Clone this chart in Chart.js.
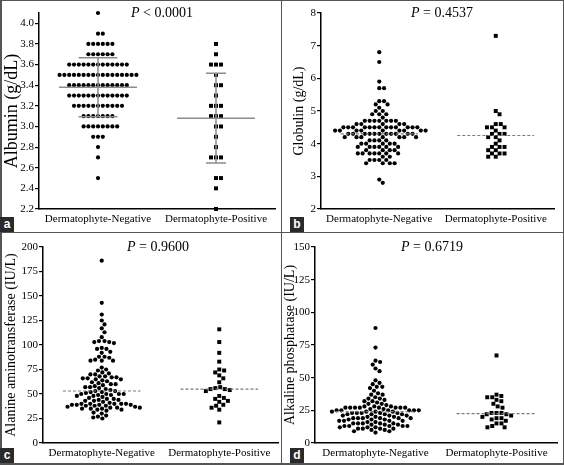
<!DOCTYPE html>
<html>
<head>
<meta charset="utf-8">
<script src="https://cdn.jsdelivr.net/npm/chart.js@4.4.1/dist/chart.umd.min.js"></script>
<style>
  body { margin: 0; background: #fff; }
  #fig { position: relative; width: 564px; height: 465px; overflow: hidden; background: #fff; }
  #fig canvas { position: absolute; }
  .tag { position: absolute; width: 14px; height: 15px; background: #2a2a2a; color: #fff;
         font: bold 12px "Liberation Sans", Arial, sans-serif; text-align: center; line-height: 14px; }
  .rule { position: absolute; background: #555; }
</style>
</head>
<body>
<div id="fig">
  <canvas id="ca" width="282" height="232" style="left:0;top:0"></canvas>
  <canvas id="cb" width="282" height="232" style="left:282px;top:0"></canvas>
  <canvas id="cc" width="282" height="233" style="left:0;top:232px"></canvas>
  <canvas id="cd" width="282" height="233" style="left:282px;top:232px"></canvas>
  <div class="rule" style="left:281px;top:0;width:1px;height:465px"></div>
  <div class="rule" style="left:0;top:232px;width:564px;height:1px"></div>
  <div class="rule" style="left:0;top:0;width:2px;height:465px"></div>
  <div class="rule" style="left:0;top:0;width:564px;height:1px"></div>
  <div class="rule" style="left:0;top:463px;width:564px;height:2px"></div>
  <div class="rule" style="left:563px;top:0;width:1px;height:465px"></div>
  <div class="tag" style="left:0;top:217px">a</div>
  <div class="tag" style="left:290px;top:217px">b</div>
  <div class="tag" style="left:0;top:448px">c</div>
  <div class="tag" style="left:290px;top:448px">d</div>
</div>
<script>
const categories = ['Dermatophyte-Negative', 'Dermatophyte-Positive'];

// a - albumin (g/dL), mean +/- SD
const albuminNeg = [
  4.1,
  3.9, 3.9,
  3.8, 3.8, 3.8, 3.8, 3.8, 3.8,
  3.7, 3.7, 3.7, 3.7, 3.7, 3.7,
  3.6, 3.6, 3.6, 3.6, 3.6, 3.6, 3.6, 3.6, 3.6, 3.6, 3.6, 3.6, 3.6,
  3.5, 3.5, 3.5, 3.5, 3.5, 3.5, 3.5, 3.5, 3.5, 3.5, 3.5, 3.5, 3.5, 3.5, 3.5, 3.5, 3.5,
  3.4, 3.4, 3.4, 3.4, 3.4, 3.4, 3.4, 3.4, 3.4, 3.4, 3.4, 3.4, 3.4,
  3.3, 3.3, 3.3, 3.3, 3.3, 3.3, 3.3, 3.3, 3.3, 3.3, 3.3, 3.3, 3.3,
  3.2, 3.2, 3.2, 3.2, 3.2, 3.2, 3.2, 3.2, 3.2, 3.2, 3.2,
  3.1, 3.1, 3.1, 3.1, 3.1, 3.1, 3.1,
  3.0, 3.0, 3.0, 3.0, 3.0, 3.0, 3.0, 3.0,
  2.9, 2.9, 2.9,
  2.8, 2.7, 2.5
];
const albuminPos = [3.8, 3.7, 3.6, 3.6, 3.6, 3.5, 3.4, 3.4, 3.3, 3.2, 3.2, 3.2, 3.1, 3.1, 3.1,
  3.0, 3.0, 2.9, 2.8, 2.7, 2.7, 2.7, 2.5, 2.5, 2.4, 2.2];
const albuminMean = [3.38, 3.08];
const albuminSD = [0.285, 0.435];
const albuminTicks = [2.2, 2.4, 2.6, 2.8, 3.0, 3.2, 3.4, 3.6, 3.8, 4.0];

// b - globulin (g/dL), median
const globulinNeg = [
  6.8, 6.5, 5.9, 5.7, 5.7, 5.3, 5.3, 5.2, 5.2, 5.1, 5.0, 5.0,
  4.9, 4.9, 4.9, 4.8,
  4.7, 4.7, 4.7, 4.7, 4.7, 4.7, 4.7,
  4.6, 4.6, 4.6, 4.6, 4.6,
  4.5, 4.5, 4.5, 4.5, 4.5, 4.5, 4.5, 4.5, 4.5, 4.5, 4.5, 4.5, 4.5,
  4.4, 4.4, 4.4, 4.4, 4.4, 4.4, 4.4, 4.4, 4.4,
  4.3, 4.3, 4.3, 4.3, 4.3, 4.3, 4.3, 4.3, 4.3, 4.3, 4.3,
  4.2, 4.2, 4.2, 4.2, 4.2, 4.2, 4.2,
  4.1, 4.1, 4.1, 4.1,
  4.0, 4.0, 4.0, 4.0, 4.0,
  3.9, 3.9, 3.9, 3.9, 3.9, 3.9,
  3.8, 3.8, 3.8, 3.8,
  3.7, 3.7, 3.7, 3.7, 3.7, 3.7, 3.7,
  3.6, 3.6,
  3.5, 3.5, 3.5, 3.5,
  3.4, 3.4, 3.4, 3.4,
  2.9, 2.8
];
const globulinPos = [7.3, 5.0, 4.9, 4.6, 4.6, 4.5, 4.5, 4.5, 4.4, 4.3, 4.3, 4.3, 4.2, 4.2,
  4.1, 4.0, 3.9, 3.9, 3.9, 3.8, 3.8, 3.7, 3.7, 3.7, 3.6, 3.6];
const globulinMedian = [4.3, 4.25];
const globulinTicks = [2, 3, 4, 5, 6, 7, 8];

// c - alanine aminotransferase (IU/L), median
const altNeg = [
  186, 143, 131, 125, 121, 117, 113, 108, 104, 104,
  103, 103, 102, 97, 96, 96, 93, 92, 88, 88,
  87, 85, 84, 84, 84, 77, 75, 74, 72, 71,
  70, 70, 68, 68, 67, 67, 66, 66, 65, 65,
  64, 63, 62, 61, 60, 60, 59, 58, 57, 57,
  56, 55, 54, 53, 53, 52, 52, 51, 50, 50,
  50, 50, 49, 49, 48, 48, 47, 46, 45, 45,
  44, 44, 43, 43, 42, 41, 40, 40, 40, 40,
  40, 39, 39, 39, 39, 38, 38, 38, 37, 37,
  36, 36, 36, 35, 35, 35, 34, 34, 33, 31,
  30, 28, 27, 26, 25
];
const altPos = [116, 103, 92, 83, 75, 74, 72, 69, 66, 62, 57, 56, 55, 55, 54, 53,
  48, 46, 45, 43, 42, 39, 38, 36, 34, 21];
const altMedian = [53, 55];
const altTicks = [0, 25, 50, 75, 100, 125, 150, 175, 200];

// d - alkaline phosphatase (IU/L), median
const alpNeg = [
  88, 73, 63, 62, 60, 57, 55, 48, 46, 45,
  43, 43, 42, 40, 38, 37, 37, 35, 34, 34,
  33, 32, 32, 31, 30, 30, 29, 28, 28, 28,
  27, 27, 27, 27, 27, 27, 27, 27, 26, 26,
  25, 25, 25, 25, 25, 25, 24, 24, 24, 24,
  23, 23, 23, 23, 23, 22, 22, 22, 22, 21,
  21, 21, 20, 20, 20, 19, 19, 19, 19, 19,
  19, 18, 18, 18, 17, 17, 17, 17, 16, 16,
  15, 15, 15, 15, 15, 14, 14, 14, 13, 13,
  13, 13, 13, 12, 12, 12, 11, 11, 11, 11,
  10, 10, 9, 9, 8
];
const alpPos = [67, 37, 36, 35, 35, 33, 32, 30, 28, 27, 23, 23, 23, 22, 22, 21, 20,
  19, 19, 18, 17, 15, 15, 13, 12, 12];
const alpMedian = [24, 22.5];
const alpTicks = [0, 25, 50, 75, 100, 125, 150];

const pValues = ['< 0.0001', '= 0.4537', '= 0.9600', '= 0.6719'];

const SERIF = '"Liberation Serif", "DejaVu Serif", serif';

// P label with italic P
const pLabel = {
  id: 'pLabel',
  afterDraw(chart, args, opts) {
    const ctx = chart.ctx;
    ctx.save();
    ctx.fillStyle = '#000';
    ctx.textBaseline = 'middle';
    ctx.font = 'italic ' + opts.size + 'px ' + SERIF;
    const w1 = ctx.measureText('P').width;
    ctx.font = opts.size + 'px ' + SERIF;
    const rest = ' ' + opts.text;
    const w2 = ctx.measureText(rest).width;
    const x0 = opts.x - (w1 + w2) / 2;
    ctx.font = 'italic ' + opts.size + 'px ' + SERIF;
    ctx.fillText('P', x0, opts.y);
    ctx.font = opts.size + 'px ' + SERIF;
    ctx.fillText(rest, x0 + w1, opts.y);
    ctx.restore();
  }
};

// spread the dots sideways so they don't overlap
function swarm(chart, dsIndex, center, values, diam) {
  const xs = chart.scales.x, ys = chart.scales.y;
  const ppu = xs.getPixelForValue(1) - xs.getPixelForValue(0);
  const placed = [];
  const out = new Array(values.length);
  const order = values.map((v, i) => i).sort((a, b) => values[b] - values[a]);
  order.forEach(i => {
    const py = ys.getPixelForValue(values[i]);
    const near = placed.filter(p => Math.abs(p.y - py) < diam);
    const cands = [0];
    near.forEach(p => {
      const dx = Math.sqrt(diam * diam - (p.y - py) * (p.y - py));
      cands.push(p.x + dx, p.x - dx);
    });
    cands.sort((a, b) => Math.abs(a) - Math.abs(b));
    const ok = cands.find(c => near.every(p => (p.x - c) * (p.x - c) + (p.y - py) * (p.y - py) >= diam * diam - 0.01));
    placed.push({ x: ok, y: py });
    out[i] = { x: center + ok / ppu, y: values[i] };
  });
  chart.data.datasets[dsIndex].data = out;
}

function summaryLines(kind, centers, spread, look) {
  const pts = [];
  [1, 2].forEach((g, k) => {
    const m = centers[k];
    pts.push({ x: g - look.half, y: m }, { x: g + look.half, y: m }, { x: g, y: null });
    if (kind === 'sd') {
      const s = spread[k], c = look.caps[k];
      pts.push({ x: g - c, y: m + s }, { x: g + c, y: m + s }, { x: g, y: null });
      pts.push({ x: g - c, y: m - s }, { x: g + c, y: m - s }, { x: g, y: null });
      pts.push({ x: g, y: m - s }, { x: g, y: m + s }, { x: g, y: null });
    }
  });
  return pts;
}

function makePanel(spec, look) {
  const canvas = document.getElementById(spec.el);
  const H = canvas.height;
  const lineDs = {
    data: summaryLines(spec.kind, spec.centers, spec.spread, look),
    showLine: true, spanGaps: false, pointRadius: 0,
    borderColor: spec.kind === 'sd' ? '#8c8c8c' : '#7a7a7a',
    borderWidth: spec.kind === 'sd' ? 1.5 : 1.1,
    borderDash: spec.kind === 'sd' ? [] : [3, 2],
    clip: false
  };
  const chart = new Chart(canvas, {
    type: 'scatter',
    data: {
      datasets: [
        lineDs,
        { data: spec.neg.map(v => ({ x: 1, y: v })), pointStyle: 'circle', pointRadius: 2.1,
          backgroundColor: '#000', borderWidth: 0, clip: false },
        { data: spec.pos.map(v => ({ x: 2, y: v })), pointStyle: 'rect', pointRadius: 2.8,
          backgroundColor: '#000', borderWidth: 0, clip: false }
      ]
    },
    options: {
      responsive: false,
      animation: false,
      events: [],
      layout: { padding: { top: look.top, right: canvas.width - look.right, left: 0, bottom: 0 } },
      plugins: {
        legend: { display: false },
        tooltip: { enabled: false },
        pLabel: { text: spec.p, x: look.px, y: look.py, size: 14 }
      },
      scales: {
        x: {
          type: 'linear', min: 0.5, max: 2.5,
          afterBuildTicks: s => { s.ticks = [{ value: 1 }, { value: 2 }]; },
          afterFit: s => { s.height = H - look.bottom; },
          ticks: { callback: v => categories[v - 1], font: { family: SERIF, size: 11 }, color: '#000',
                   padding: 4, maxRotation: 0, autoSkip: false },
          grid: { drawOnChartArea: false, drawTicks: false, color: '#000' },
          border: { color: '#000', width: 1.5 }
        },
        y: {
          type: 'linear', min: spec.min, max: spec.max,
          afterBuildTicks: s => { s.ticks = spec.ticks.map(v => ({ value: v })); },
          afterFit: s => { s.width = look.axisX; },
          ticks: { callback: v => v.toFixed(spec.dec), font: { family: SERIF, size: 11 }, color: '#000',
                   padding: 1, autoSkip: false },
          grid: { drawOnChartArea: false, tickLength: 4, color: '#000', lineWidth: 1.2 },
          border: { color: '#000', width: 1.5 },
          title: { display: true, text: spec.title, color: '#000',
                   font: { family: SERIF, size: look.titleSize, lineHeight: 1.2 },
                   padding: { top: look.titlePad, bottom: 0 } }
        }
      }
    },
    plugins: [pLabel]
  });
  swarm(chart, 1, 1, spec.neg, 4.8);
  swarm(chart, 2, 2, spec.pos, 5.0);
  chart.update('none');
}

makePanel(
  { el: 'ca', kind: 'sd', neg: albuminNeg, pos: albuminPos, centers: albuminMean, spread: albuminSD,
    ticks: albuminTicks, min: 2.2, max: 4.1, dec: 1, title: 'Albumin (g/dL)', p: pValues[0] },
  { axisX: 39, top: 13, bottom: 209, right: 275, titleSize: 18, titlePad: 1.2, px: 162, py: 13,
    half: 0.33, caps: [0.165, 0.085] });
makePanel(
  { el: 'cb', kind: 'median', neg: globulinNeg, pos: globulinPos, centers: globulinMedian,
    ticks: globulinTicks, min: 2, max: 8, dec: 0, title: 'Globulin (g/dL)', p: pValues[1] },
  { axisX: 39, top: 13, bottom: 209, right: 272, titleSize: 14, titlePad: 8.6, px: 160, py: 13,
    half: 0.33 });
makePanel(
  { el: 'cc', kind: 'median', neg: altNeg, pos: altPos, centers: altMedian,
    ticks: altTicks, min: 0, max: 200, dec: 0, title: 'Alanine aminotransferase (IU/L)', p: pValues[2] },
  { axisX: 43, top: 15, bottom: 211, right: 278, titleSize: 14, titlePad: 2.6, px: 158, py: 15,
    half: 0.33 });
makePanel(
  { el: 'cd', kind: 'median', neg: alpNeg, pos: alpPos, centers: alpMedian,
    ticks: alpTicks, min: 0, max: 150, dec: 0, title: 'Alkaline phosphatase (IU/L)', p: pValues[3] },
  { axisX: 33, top: 15, bottom: 211, right: 275, titleSize: 14, titlePad: 0.4, px: 150, py: 15,
    half: 0.33 });
</script>
</body>
</html>
